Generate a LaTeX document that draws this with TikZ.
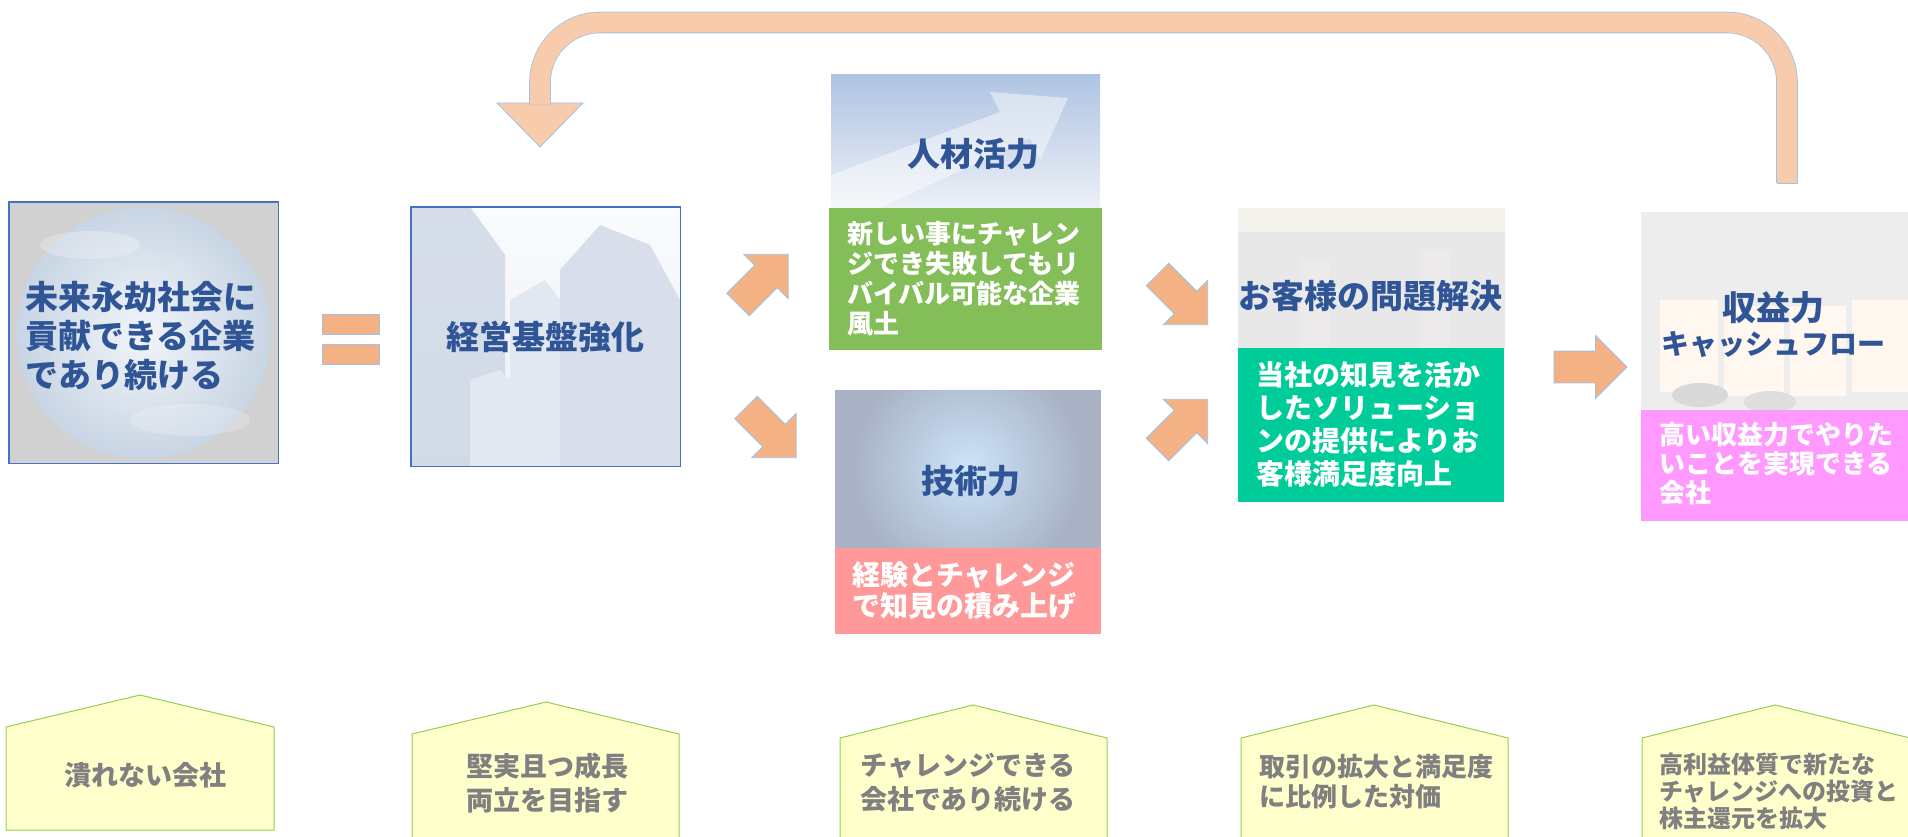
\documentclass[tikz,border=0pt]{standalone}
\usepackage{fontspec}
\setmainfont{Noto Sans CJK JP}
\usetikzlibrary{shapes.arrows}
\definecolor{titleblue}{RGB}{47,85,151}
\definecolor{edgeblue}{RGB}{157,195,230}
\definecolor{boxblue}{RGB}{68,114,196}
\definecolor{arroworange}{RGB}{244,177,131}
\definecolor{looporange}{RGB}{248,203,173}
\definecolor{talentgreen}{RGB}{132,190,89}
\definecolor{techpink}{RGB}{255,153,153}
\definecolor{clientteal}{RGB}{0,204,153}
\definecolor{profitpink}{RGB}{255,153,255}
\definecolor{houseyellow}{RGB}{255,255,204}
\definecolor{housegreen}{RGB}{146,208,80}
\definecolor{housegray}{RGB}{128,128,128}
\definecolor{towerdark}{RGB}{205,214,228}
\definecolor{towermid}{RGB}{216,223,234}
\definecolor{towerlight}{RGB}{226,232,241}
\definecolor{techbg}{RGB}{168,178,196}
\definecolor{techglow}{RGB}{205,228,250}
\begin{document}
\begin{tikzpicture}[x=1pt,y=-1pt,
  every node/.style = {inner sep=0pt},
  photo/.style = {draw=none, anchor=north west},
  framed/.style = {draw=boxblue, line width=1.2pt},
  capbox/.style = {draw=none, anchor=north west},
  titletext/.style = {text=titleblue, align=left,
    font=\fontsize{33}{39}\selectfont\bfseries},
  captext/.style = {text=white, align=left, anchor=west},
  eqbar/.style = {draw=edgeblue, fill=arroworange, line width=1pt,
    minimum width=57pt, minimum height=20pt},
  blockarrow/.style = {single arrow, draw=edgeblue, fill=arroworange,
    line width=0.8pt, minimum height=71pt, inner xsep=0pt, inner ysep=15.5pt,
    single arrow head extend=15.5pt, single arrow tip angle=90},
  house/.style = {draw=housegreen, fill=houseyellow, line width=1pt},
  housetext/.style = {text=housegray, align=center,
    font=\fontsize{27}{34}\selectfont\bfseries}]
\useasboundingbox (0,0) rectangle (1908,837);

\node[photo, minimum width=269pt, minimum height=261pt] (globe) at (9,202) {};
\begin{scope}
\clip (9,202) rectangle (278,463);
\fill[black!18] (9,202) rectangle (278,463);
\shade[inner color={rgb,255:red,242;green,245;blue,249},
  outer color={rgb,255:red,200;green,213;blue,228}] (143.5,333) ellipse (127pt and 126pt);
\fill[white, opacity=.25] (90,245) ellipse (50pt and 14pt);
\fill[white, opacity=.2] (190,420) ellipse (60pt and 16pt);
\end{scope}
\draw[framed] (globe.south west) rectangle (globe.north east);
\node[titletext] (mission) at (141,336) {未来永劫社会に\\貢献できる企業\\であり続ける};

\node[eqbar] (eqtop) at (350.5,324) {};
\node[eqbar] (eqbottom) at (350.5,354) {};

\node[photo, minimum width=269pt, minimum height=259pt] (base) at (411,207) {};
\begin{scope}
\clip (411,207) rectangle (680,466);
\shade[top color={rgb,255:red,250;green,251;blue,253},
  bottom color={rgb,255:red,234;green,238;blue,245}] (411,207) rectangle (680,466);
\fill[towerdark, opacity=.8] (411,207) -- (470,207) -- (505,255) -- (505,466) -- (411,466) -- cycle;
\fill[towerlight] (510,300) -- (545,280) -- (560,300) -- (560,466) -- (510,466) -- cycle;
\fill[towermid] (560,270) -- (600,225) -- (650,245) -- (680,300) -- (680,466) -- (560,466) -- cycle;
\fill[towerlight] (470,380) -- (500,370) -- (510,380) -- (510,466) -- (470,466) -- cycle;
\end{scope}
\draw[framed] (base.south west) rectangle (base.north east);
\node[titletext] (basetext) at (545.5,336.5) {経営基盤強化};

\node[blockarrow, rotate=45] (toTalent) at (757.5,285) {};
\node[blockarrow, rotate=-45] (toTech) at (765.5,427) {};

\node[photo, minimum width=269pt, minimum height=133pt] (talent) at (831,75) {};
\begin{scope}
\clip (831,75) rectangle (1100,208);
\shade[top color={rgb,255:red,175;green,196;blue,226},
  bottom color={rgb,255:red,236;green,240;blue,247}] (831,75) rectangle (1100,208);
\fill[white, opacity=.45] (831,208) -- (831,175) -- (1000,112) -- (990,92) -- (1068,98) -- (1040,160) -- (1030,138) -- (880,208) -- cycle;
\end{scope}
\node[titletext] (talenttitle) at (973,154) {人材活力};
\node[capbox, fill=talentgreen, minimum width=273pt, minimum height=142pt] (talentbox) at (829,208) {};
\node[captext, font=\fontsize{26}{30}\selectfont\bfseries] (talentcap) at (847,279) {新しい事にチャレン\\ジでき失敗してもリ\\バイバル可能な企業\\風土};

\node[photo, minimum width=266pt, minimum height=158pt] (tech) at (835,390) {};
\begin{scope}
\clip (835,390) rectangle (1101,548);
\fill[techbg] (835,390) rectangle (1101,548);
\shade[inner color=techglow, outer color=techbg] (968,468) circle (115pt);
\end{scope}
\node[titletext] (techtitle) at (971,481) {技術力};
\node[capbox, fill=techpink, minimum width=266pt, minimum height=86pt] (techbox) at (835,548) {};
\node[captext, font=\fontsize{28}{31}\selectfont\bfseries] (techcap) at (852,591) {経験とチャレンジ\\で知見の積み上げ};

\node[blockarrow, rotate=-45] (fromTalent) at (1177,294) {};
\node[blockarrow, rotate=45] (fromTech) at (1177,430) {};

\node[photo, minimum width=267pt, minimum height=140pt] (client) at (1238,208) {};
\begin{scope}
\clip (1238,208) rectangle (1505,348);
\fill[black!9] (1238,208) rectangle (1505,348);
\fill[yellow!30!black!8] (1238,208) rectangle (1505,232);
\fill[red!15!black!8, opacity=.7] (1300,260) rectangle (1330,348);
\fill[red!15!black!8, opacity=.7] (1420,250) rectangle (1450,348);
\end{scope}
\node[titletext] (clienttitle) at (1370,296) {お客様の問題解決};
\node[capbox, fill=clientteal, minimum width=266pt, minimum height=154pt] (clientbox) at (1238,348) {};
\node[captext, font=\fontsize{28}{33}\selectfont\bfseries] (clientcap) at (1256,424) {当社の知見を活か\\したソリューショ\\ンの提供によりお\\客様満足度向上};

\node[single arrow, draw=edgeblue, fill=arroworange, line width=0.8pt,
  minimum height=73pt, inner xsep=0pt, inner ysep=15.5pt,
  single arrow head extend=15.5pt, single arrow tip angle=90] (toProfit) at (1582.5,367) {};

\node[photo, minimum width=267pt, minimum height=198pt] (profit) at (1641,212) {};
\begin{scope}
\clip (1641,212) rectangle (1908,410);
\fill[black!7] (1641,212) rectangle (1908,410);
\fill[orange!6] (1660,300) rectangle (1718,392);
\fill[orange!6] (1724,306) rectangle (1784,396);
\fill[orange!6] (1790,306) rectangle (1846,396);
\fill[orange!6] (1852,300) rectangle (1908,392);
\fill[black!15] (1700,395) ellipse (28pt and 12pt);
\fill[black!13] (1770,402) ellipse (26pt and 11pt);
\end{scope}
\node[titletext, font=\fontsize{34}{40}\selectfont\bfseries] (profittitle) at (1773,308) {収益力};
\node[titletext, font=\fontsize{28}{32}\selectfont\bfseries] (cashflow) at (1773,345) {キャッシュフロー};
\node[capbox, fill=profitpink, minimum width=267pt, minimum height=111pt] (profitbox) at (1641,410) {};
\node[captext, font=\fontsize{26}{29}\selectfont\bfseries] (profitcap) at (1659,464) {高い収益力でやりた\\いことを実現できる\\会社};

\coordinate (loopfrom) at (1787,183);
\coordinate (loopto) at (540,104.5);
\filldraw[draw=edgeblue, fill=looporange, line width=0.8pt] (497,103) -- (583,103) -- (540,147) -- cycle;
\draw[draw=edgeblue, line width=0.8pt, double=looporange, double distance=20pt,
  rounded corners=60pt] (loopfrom) -- (1787,22.5) -- (540,22.5) -- (loopto);
\draw[edgeblue, line width=0.8pt] (1776.5,183) -- (1797.5,183);

\draw[house] (6,727) -- (140,695) -- (274,727) -- (274,830) -- (6,830) -- cycle;
\node[housetext] (sturdy) at (145,775) {潰れない会社};
\draw[house] (412,734) -- (546,702) -- (679,734) -- (679,850) -- (412,850) -- cycle;
\node[housetext] (steady) at (547,783) {堅実且つ成長\\両立を目指す};
\draw[house] (840,738) -- (973,705) -- (1107,738) -- (1107,850) -- (840,850) -- cycle;
\node[housetext] (challenge) at (968,783) {チャレンジできる\\会社であり続ける};
\draw[house] (1241,738) -- (1374,705) -- (1508,738) -- (1508,850) -- (1241,850) -- cycle;
\node[housetext, align=left, anchor=west, font=\fontsize{26}{30}\selectfont\bfseries] (reward) at (1259,782) {取引の拡大と満足度\\に比例した対価};
\draw[house] (1642,738) -- (1775,705) -- (1910,738) -- (1910,850) -- (1642,850) -- cycle;
\node[housetext, align=left, anchor=west, font=\fontsize{24}{27}\selectfont\bfseries] (invest) at (1659,791) {高利益体質で新たな\\チャレンジへの投資と\\株主還元を拡大};
\end{tikzpicture}
\end{document}
